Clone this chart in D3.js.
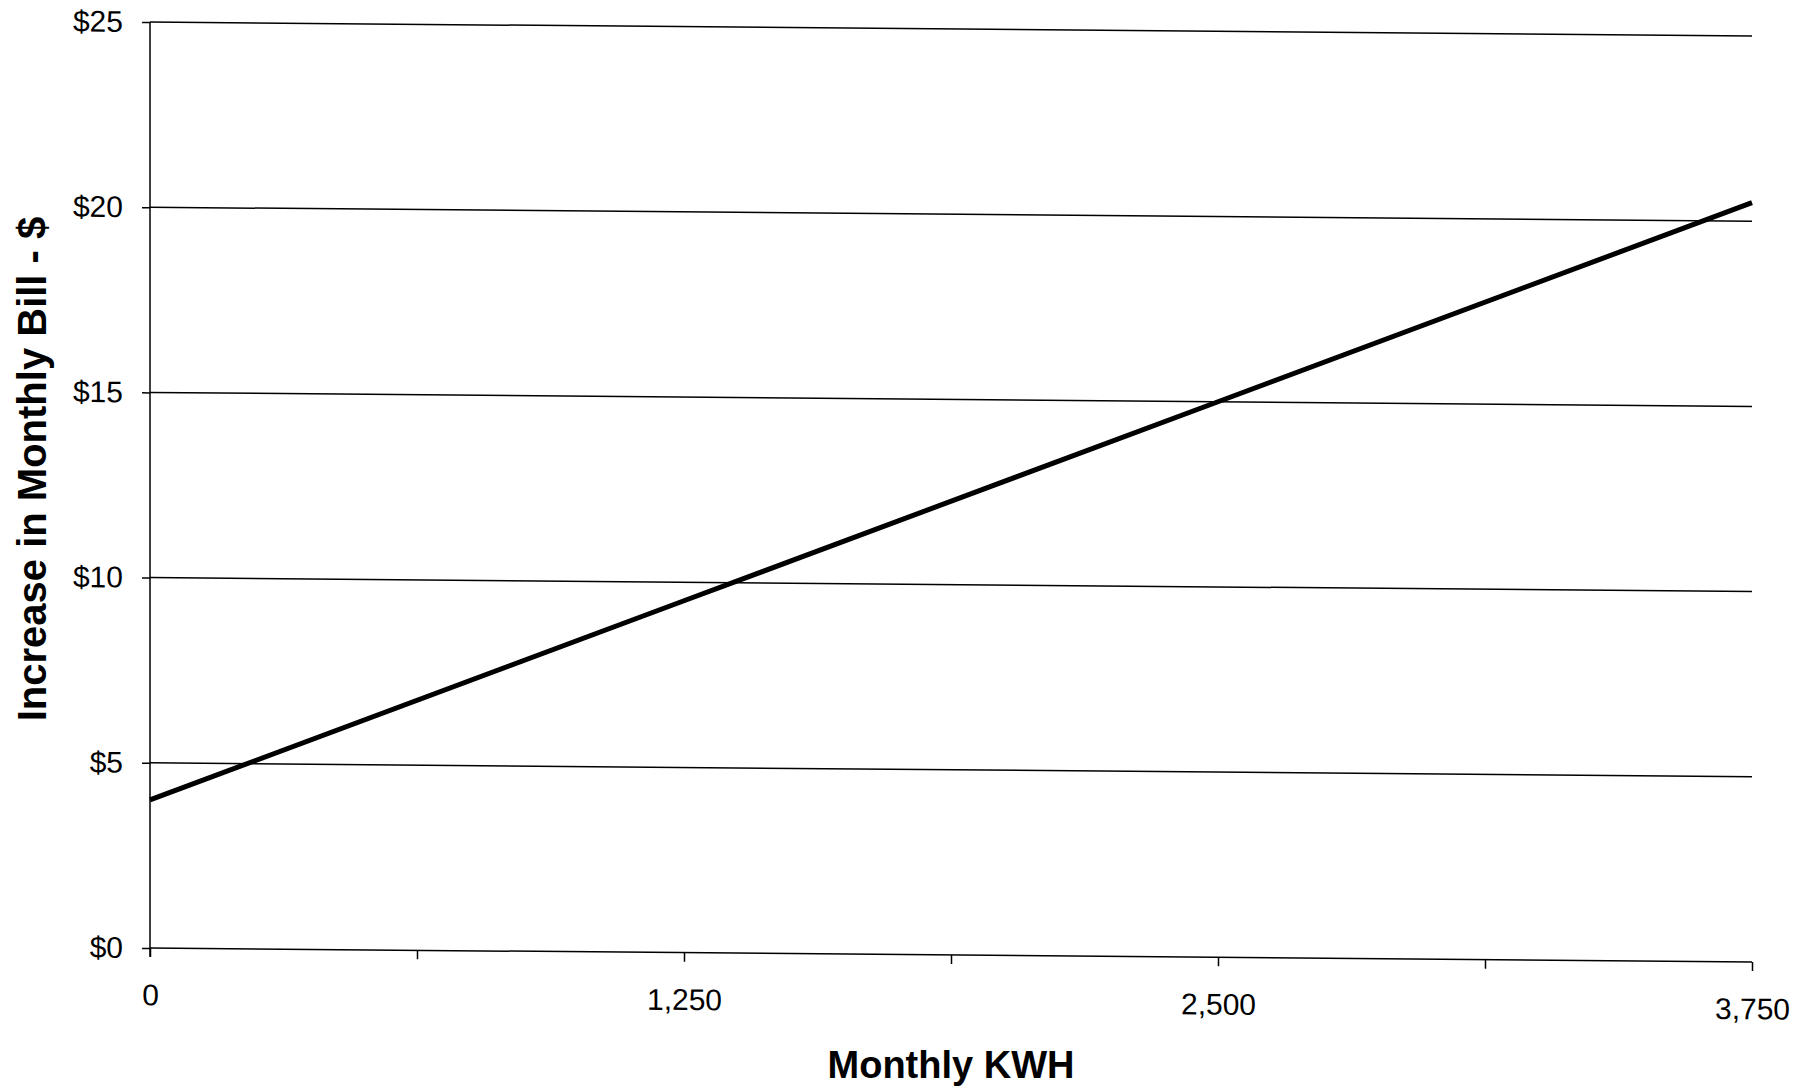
<!DOCTYPE html>
<html>
<head>
<meta charset="utf-8">
<script src="https://cdn.jsdelivr.net/npm/d3@7"></script>
<style>
  body { margin: 0; background: #fff; }
  text { font-family: "Liberation Sans", Arial, sans-serif; fill: #000; }
</style>
</head>
<body>
<script>
// values
const kwh = [0, 1250, 2500, 3750];
const increase = [4.0, 9.5, 15.0, 20.5];

const kwhTicks = [0, 625, 1250, 1875, 2500, 3125, 3750];
const kwhLabels = [0, 1250, 2500, 3750];
const dollarTicks = [0, 5, 10, 15, 20, 25];

const xTitle = "Monthly KWH";
const yTitle = "Increase in Monthly Bill - $";

const width = 1816;
const height = 1088;
const margin = {top: 22, right: 64, bottom: 140, left: 150};
const chartWidth = width - margin.left - margin.right;   // 1602
const chartHeight = height - margin.top - margin.bottom; // 926

const xScale = d3.scaleLinear()
    .domain([0, 3750])
    .range([0, chartWidth]);

const yScale = d3.scaleLinear()
    .domain([0, 25])
    .range([chartHeight, 0]);

let svg = d3.select('body')
    .append('svg')
        .attr('width', width)
        .attr('height', height);

// the scanned original leans a little, so the plot is skewed slightly
let graph = svg.append('g')
    .attr('transform', `translate(${margin.left},${margin.top}) skewY(0.5)`);

// y axis ticks + labels
let yAxis = graph.append('g')
    .call(d3.axisLeft(yScale)
        .tickValues(dollarTicks)
        .tickSize(8)
        .tickPadding(19)
        .tickFormat(d => '$' + d));

yAxis.select('.domain').remove();
yAxis.selectAll('line').attr('stroke', '#000').attr('stroke-width', 1.5);
yAxis.selectAll('text').attr('font-size', 30).attr('font-family', '"Liberation Sans", Arial, sans-serif');

// gridlines
graph.append('g')
    .selectAll('line')
    .data(dollarTicks)
    .enter()
        .append('line')
            .attr('x1', 0)
            .attr('x2', chartWidth)
            .attr('y1', d => yScale(d))
            .attr('y2', d => yScale(d))
            .attr('stroke', '#000')
            .attr('stroke-width', 1.5);

// x axis
let xAxis = graph.append('g')
    .attr('transform', `translate(0,${chartHeight})`)
    .call(d3.axisBottom(xScale)
        .tickValues(kwhTicks)
        .tickSize(9)
        .tickPadding(27)
        .tickFormat(d => kwhLabels.includes(d) ? d3.format(',')(d) : ''));

xAxis.select('.domain').remove();
xAxis.selectAll('line').attr('stroke', '#000').attr('stroke-width', 1.5);
xAxis.selectAll('text').attr('font-size', 30).attr('font-family', '"Liberation Sans", Arial, sans-serif');

// y axis line
graph.append('line')
    .attr('x1', 0)
    .attr('x2', 0)
    .attr('y1', 0)
    .attr('y2', chartHeight + 9)
    .attr('stroke', '#000')
    .attr('stroke-width', 1.5);

// the series
const points = kwh.map((k, i) => [k, increase[i]]);

graph.append('path')
    .datum(points)
    .attr('fill', 'none')
    .attr('stroke', '#000')
    .attr('stroke-width', 5)
    .attr('d', d3.line()
        .x(d => xScale(d[0]))
        .y(d => yScale(d[1])));

// axis titles
svg.append('text')
    .attr('x', margin.left + chartWidth / 2)
    .attr('y', 1078)
    .attr('text-anchor', 'middle')
    .attr('font-size', 38)
    .attr('font-weight', 'bold')
    .text(xTitle);

svg.append('text')
    .attr('transform', `translate(46,469) rotate(-90)`)
    .attr('text-anchor', 'middle')
    .attr('font-size', 40)
    .attr('font-weight', 'bold')
    .text(yTitle);
</script>
</body>
</html>
